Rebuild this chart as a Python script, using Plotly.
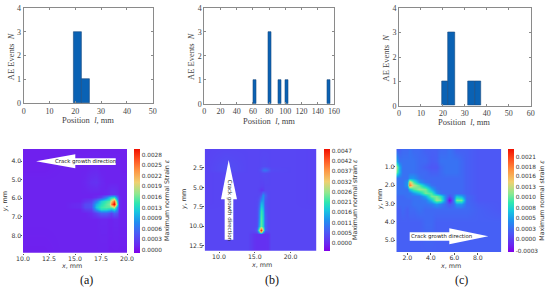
import plotly.graph_objects as go

W, H = 550, 289

# ---------- AE event histograms ----------
bars_a_left = [19.5, 22.6]
bars_a_width = [3.1, 3.1]
bars_a_n = [3, 1]
bars_b_left = [60.9, 79.0, 91.3, 100.4, 151.2]
bars_b_width = [3.7, 3.7, 3.7, 3.7, 3.7]
bars_b_n = [1, 3, 1, 1, 1]
bars_c_left = [19.4, 22.5, 31.4, 34.5]
bars_c_width = [3.05, 3.05, 3.05, 3.05]
bars_c_n = [1, 3, 1, 1]

# ---------- strain maps, values in units of 1e-4 ----------
map_a_x = [10, 12, 14, 15.5, 16, 16.5, 17, 17.5, 18, 18.25, 18.5, 18.75, 19, 19.25, 19.5, 20]
map_a_y = [3.35, 4.5, 5.1, 5.75, 5.95, 6.15, 6.3, 6.45, 6.6, 6.8, 7.1, 8.93]
map_a_z = [
    [.8, .8, .8, .8, .8, .8, .8, .8, .8, .8, .8, .8, .8, .8, .8, .8],
    [.8, .8, 1, 1, 1, 1.2, 1.3, 1, 1, 1, 1, 1, 1, 1, .8, .8],
    [1, 1, 1, 1, 1.2, 1.8, 2, 1.3, 1, 1, 1, 1, 1, 1, 1, 1],
    [1, 1, 1, 1, 1, 1, 1, 1, 1.2, 1.6, 2, 2, 1.6, 1, 1, 1],
    [1, 1, 1, 1, 1, 1, 1.5, 3, 7, 10, 12, 13, 6, 1.5, 1, 1],
    [1, 1, 1, 1, 2, 3, 7, 12, 14, 15, 20, 26, 12, 1.5, 1, 1],
    [1, 1, 1, 1.5, 3.5, 4, 10, 13, 15, 16, 24, 31, 15, 1.5, 1, 1],
    [1, 1, 1, 1.5, 3.5, 4, 11, 14, 15, 15, 16, 19, 9, 1.5, 1, 1],
    [1, 1, 1, 1, 2.5, 3, 9, 13, 13, 12, 11, 13, 8, 1.5, 1, 1],
    [1, 1, 1, 1, 1, 1.5, 3, 5, 5, 4, 3, 5, 4, 1.2, 1, 1],
    [1, 1, 1, 1, 1, 1, 1, 1.2, 1.2, 1, 1, 1.2, 1.2, 1, 1, 1],
    [.8, .8, 1, 1, 1, 1, 1, 1, 1, .8, .8, .8, .8, .8, .8, .8],
]
map_a_ticks = [0, .00031, .00062, .00093, .00124, .00156, .00187, .00218, .00249, .0028]
map_a_labels = ["0.0000", "0.0003", "0.0006", "0.0009", "0.0013", "0.0016", "0.0019", "0.0022", "0.0025", "0.0028"]

map_b_x = [8, 11, 14, 14.8, 15.2, 15.5, 15.8, 16.1, 16.4, 16.8, 17.2, 20, 23.6]
map_b_y = [0.06, 2.2, 2.7, 3.2, 4.8, 5.3, 6, 7, 8, 9, 10, 10.5, 10.8, 11, 13.15]
map_b_z = [
    [3.2, 3.5, 3.5, 3.5, 3.5, 3.5, 3.5, 3.5, 3.5, 3.5, 3.5, 3.5, 3.2],
    [3.2, 4.5, 3.5, 3.5, 3.5, 3.5, 3.8, 4, 4, 3.8, 3.5, 3.5, 3.2],
    [3.2, 4.5, 3.5, 3.5, 3.5, 4, 5, 8, 9, 7, 4, 3.5, 3.2],
    [3.2, 3.5, 3.5, 3.5, 3.5, 3.5, 3.8, 4, 4, 3.8, 3.5, 3.5, 3.2],
    [3.2, 3.5, 3.5, 3.5, 3.5, 3.5, 3, 3, 3.5, 3.5, 3.5, 3.5, 3.2],
    [3.2, 3.5, 3.5, 3.5, 3.5, 3, 1.5, 2, 3.5, 3.5, 3.5, 3.5, 3.2],
    [3.2, 3.5, 3.5, 3.5, 3.5, 3.8, 5, 12, 7, 4, 3.5, 3.5, 3.2],
    [3.2, 3.5, 3.5, 3.5, 3.8, 6, 15, 14, 5, 3.8, 3.5, 3.5, 3.2],
    [3.5, 3.5, 3.5, 3.5, 4, 9, 21, 18, 6, 4, 3.5, 3.5, 3.5],
    [3.5, 3.5, 3.5, 3.5, 4, 10, 23, 19, 7, 4, 3.5, 3.5, 3.5],
    [3.5, 3.5, 3.5, 3.5, 4, 13, 24, 19, 7, 4, 3.5, 3.5, 3.5],
    [3.5, 3.5, 3.5, 3.5, 6, 26, 47, 30, 7, 4, 3.5, 3.5, 3.5],
    [3.5, 3.5, 3.5, 3, 4, 14, 36, 14, 3, 3, 3.5, 3.5, 3.5],
    [3.5, 3.5, 3.5, 1.5, 1, 1, 1, 1, 1, 1.2, 3.5, 3.5, 3.5],
    [3.5, 3.5, 3.5, 1.5, 1, 1, 1, 1, 1, 1.2, 3.5, 3.5, 3.5],
]
map_b_ticks = [0, .00052, .00104, .00157, .00209, .00261, .00313, .00366, .00418, .0047]
map_b_labels = ["0.0000", "0.0005", "0.0011", "0.0016", "0.0021", "0.0026", "0.0032", "0.0037", "0.0042", "0.0047"]

map_c_x = [1.06, 1.3, 1.6, 2.0, 2.2, 2.5, 3, 3.5, 4, 4.5, 4.8, 5.2, 5.6, 5.9, 6.2, 6.6, 7, 8, 10]
map_c_y = [0.02, 0.7, 1, 1.3, 1.6, 1.8, 2, 2.2, 2.4, 2.6, 2.8, 3, 3.3, 4, 5.64]
map_c_z = [
    [2, 2, 2.5, 2.5, 3, 2.5, 2.5, 2, 2, 2, 2.5, 2.5, 3, 2.5, 2, 2, 2, 1.5, 1.5],
    [6, 3, 3, 3, 3, 3, 2.5, 2.5, 1.8, 2, 3, 3, 3, 3, 3, 2.5, 2, 1.5, 1.5],
    [13, 6, 3, 3, 3, 3, 2.5, 2, 1.5, 1.5, 2.5, 3, 3, 3, 3, 2.5, 2, 1.5, 1.5],
    [11, 6, 3, 3, 3, 3, 2.5, 2.5, 2, 2, 2.5, 3, 3, 3, 3, 2.5, 2, 1.5, 1.5],
    [3, 3, 3, 3, 5, 5, 3, 2.5, 2.5, 2.5, 2.5, 2.5, 2.5, 2.5, 2.5, 2.5, 2, 1.5, 1.5],
    [3, 3, 3, 5, 16, 10, 5, 3, 2.5, 2.5, 2.5, 2.5, 2.5, 2.5, 2.5, 2.5, 2, 1.5, 1.5],
    [3, 3, 3, 5, 19, 13, 10, 6, 3, 2.5, 2.5, 2.5, 2.5, 2.5, 2.5, 2.5, 2, 1.5, 1.5],
    [3, 3, 3, 3, 7, 10, 12, 11, 6, 3, 2.5, 2.5, 2.5, 2.5, 2.5, 2.5, 2, 1.5, 1.5],
    [3, 3, 3, 3, 3, 5, 7, 11, 10, 5, 3, 2.5, 2.5, 2.5, 2.5, 2.5, 2, 1.5, 1.5],
    [2.5, 2.5, 2.5, 3, 3, 3, 3.5, 6, 11, 11, 9, 4, 1, 3, 7, 6, 2.5, 1.5, 1.5],
    [2.5, 2.5, 2.5, 2.5, 2.5, 3, 3, 3.5, 7, 12, 11, 4, -3, 3, 11, 11, 2.5, 1.5, 1.5],
    [2.5, 2.5, 2.5, 2.5, 2.5, 3, 3, 3, 3.5, 5, 4, 2.5, 1.5, 2.5, 5, 5, 2.5, 1.8, 1.5],
    [2, 2, 2.5, 2, 2.5, 2.5, 3, 2.5, 2.5, 2.5, 2.5, 2.5, 2.5, 2.5, 2.5, 2.5, 2.5, 2, 1.5],
    [2, 2, 2, 2, 2, 2, 2, 2.5, 2.5, 2, 2, 2, 2, 2, 2, 2, 2, 2, 2],
    [2, 2, 2, 2, 2, 2, 2, 2, 2, 2, 2, 2, 2, 2, 2, 2, 2, 2, 2],
]
map_c_ticks = [-.0003, 0, .00027, .00053, .0008, .00107, .00133, .0016, .00183, .0021]
map_c_labels = ["-0.0003", "0.0000", "0.0003", "0.0005", "0.0008", "0.0010", "0.0013", "0.0016", "0.0018", "0.0021"]

scale = [[0, "#8000e8"], [.07, "#6a28f0"], [.19, "#4a5cf5"], [.3, "#2090f0"], [.4, "#18c8e0"],
         [.48, "#30e8b0"], [.57, "#90e890"], [.68, "#f0d070"], [.8, "#ff9040"], [.9, "#ff5020"], [1, "#f01000"]]

SERIF = "Liberation Serif"
SANS = "DejaVu Sans"
AXC = "#8a8a8a"
TXT = "#444444"
DARK = "#333333"


def fx(p):
    return p / W


def fy(p):
    return 1 - p / H


fig = go.Figure()

hist_boxes = [
    (23.7, 152.7, 8.0, 103.3, 50, 10, bars_a_left, bars_a_width, bars_a_n),
    (204.3, 334.0, 8.0, 103.7, 160, 20, bars_b_left, bars_b_width, bars_b_n),
    (399.0, 530.7, 8.3, 105.7, 60, 10, bars_c_left, bars_c_width, bars_c_n),
]
layout = {}
for i, (x0, x1, y0, y1, xmax, step, left, width, n) in enumerate(hist_boxes):
    k = i + 1
    sfx = "" if k == 1 else str(k)
    fig.add_trace(go.Bar(x=[a + b / 2 for a, b in zip(left, width)], y=n, width=width,
                         marker=dict(color="#0a62b4", line=dict(color="#174a80", width=0.6)),
                         xaxis="x" + sfx, yaxis="y" + sfx, showlegend=False))
    common = dict(showline=True, linecolor=AXC, linewidth=1, mirror="ticks", ticks="inside", ticklen=2,
                  tickcolor=AXC, showgrid=False, zeroline=False, automargin=False,
                  tickfont=dict(family=SERIF, size=8, color=TXT))
    layout["xaxis" + sfx] = dict(domain=[fx(x0), fx(x1)], range=[0, xmax], dtick=step, tick0=0,
                                 anchor="y" + sfx, **common)
    layout["yaxis" + sfx] = dict(domain=[fy(y1), fy(y0)], range=[0, 4], dtick=1, tick0=0,
                                 anchor="x" + sfx, **common)

map_boxes = [
    (23.0, 127.0, 149.0, 252.7, 133.7, map_a_x, map_a_y, map_a_z, map_a_ticks, map_a_labels,
     -.00009, .00298, [10, 12.5, 15, 17.5, 20], [4, 5, 6, 7, 8]),
    (204.7, 316.3, 149.0, 250.7, 323.7, map_b_x, map_b_y, map_b_z, map_b_ticks, map_b_labels,
     -.00037, .0048, [10, 15, 20], [2.5, 5, 7.5, 10, 12.5]),
    (396.3, 501.3, 149.0, 252.0, 508.0, map_c_x, map_c_y, map_c_z, map_c_ticks, map_c_labels,
     -.00032, .00229, [2, 4, 6, 8], [1, 2, 3, 4, 5]),
]
for i, (x0, x1, y0, y1, cbx, mx, my, mz, ticks, labels, zmin, zmax, xt, yt) in enumerate(map_boxes):
    k = i + 4
    fig.add_trace(go.Heatmap(
        x=mx, y=my, z=[[v * 1e-4 for v in row] for row in mz], zmin=zmin, zmax=zmax, zsmooth="best",
        colorscale=scale, xaxis=f"x{k}", yaxis=f"y{k}",
        colorbar=dict(x=fx(cbx), xanchor="left", xref="paper", y=fy(y1), yanchor="bottom", yref="paper",
                      len=(y1 - y0) / H, lenmode="fraction", thickness=5.5, thicknessmode="pixels", xpad=0, ypad=0,
                      outlinewidth=0, ticks="", tickvals=ticks, ticktext=labels,
                      tickfont=dict(family=SANS, size=5.8, color=DARK))))
    common = dict(showline=False, ticks="outside", ticklen=1.5, tickwidth=0.6, tickcolor="#555555", showgrid=False,
                  zeroline=False, automargin=False, ticklabelstandoff=-2,
                  tickfont=dict(family=SANS, size=6.2, color=DARK), tickformat=".1f")
    layout[f"xaxis{k}"] = dict(domain=[fx(x0), fx(x1)], range=[mx[0], mx[-1]], tickvals=xt, anchor=f"y{k}", **common)
    layout[f"yaxis{k}"] = dict(domain=[fy(y1), fy(y0)], range=[my[-1], my[0]], tickvals=yt, anchor=f"x{k}", **common)


def arrow(points):
    path = "M " + " L ".join(f"{fx(a):.4f},{fy(b):.4f}" for a, b in points) + " Z"
    return dict(type="path", xref="paper", yref="paper", path=path, fillcolor="white", line=dict(width=0), layer="above")


shapes = [
    arrow([(36, 161.3), (75.3, 154.3), (75.3, 158.3), (115.7, 158.3), (115.7, 165), (75.3, 165), (75.3, 168.3)]),
    arrow([(228.7, 160), (237, 199.3), (233.3, 199.3), (233.3, 239.7), (224.7, 239.7), (224.7, 199.3), (221, 199.3)]),
    arrow([(488.3, 236.3), (449.3, 228.3), (449.3, 232.3), (409.7, 232.3), (409.7, 240.7), (449.3, 240.7), (449.3, 244.3)]),
]


def note(text, px, py, size, family, angle=0, color="#222222"):
    return dict(text=text, x=fx(px), y=fy(py), xref="paper", yref="paper", showarrow=False, textangle=angle,
                xanchor="center", yanchor="middle", font=dict(family=family, size=size, color=color))


POS = "Position  <i>l</i>, mm"
AE = "AE Events  <i>N</i>"
annotations = [
    note(POS, 88, 120, 8.5, SERIF, 0, TXT),
    note(POS, 269, 120.5, 8.5, SERIF, 0, TXT),
    note(POS, 464, 122.5, 8.5, SERIF, 0, TXT),
    note(AE, 10.5, 56.7, 8.5, SERIF, -90, TXT),
    note(AE, 191, 56, 8.5, SERIF, -90, TXT),
    note(AE, 385.5, 58, 8.5, SERIF, -90, TXT),
    note("<i>x</i>, mm", 71, 266, 6.4, SANS, 0, DARK),
    note("<i>x</i>, mm", 261, 264.5, 6.4, SANS, 0, DARK),
    note("<i>x</i>, mm", 450.3, 266, 6.4, SANS, 0, DARK),
    note("<i>y</i>, mm", 5, 202.3, 6.4, SANS, -90, DARK),
    note("<i>y</i>, mm", 184, 200, 6.4, SANS, -90, DARK),
    note("<i>y</i>, mm", 380, 200, 6.4, SANS, -90, DARK),
    note("Crack growth direction", 85, 161.3, 5.4, SANS),
    note("Crack growth direction", 229, 209.7, 5.4, SANS, 90),
    note("Crack growth direction", 441.7, 236.4, 5.4, SANS),
    note("Maximum normal Strain <i>ε</i>", 167, 200, 6.3, SANS, -90, DARK),
    note("Maximum normal strain <i>ε</i>", 355, 200, 6.3, SANS, -90, DARK),
    note("Maximum normal strain <i>ε</i>", 541.7, 200, 6.3, SANS, -90, DARK),
    note("(a)", 86, 280, 12, SERIF, color="#111111"),
    note("(b)", 272, 280, 12, SERIF, color="#111111"),
    note("(c)", 461, 280, 12, SERIF, color="#111111"),
]

fig.update_layout(template="none", width=W, height=H, margin=dict(l=0, r=0, t=0, b=0, pad=0), autosize=False,
                  paper_bgcolor="white", plot_bgcolor="white", bargap=0, shapes=shapes, annotations=annotations,
                  showlegend=False, **layout)
fig.write_html("out.html", config=dict(displayModeBar=False),
               post_script="document.body.style.margin='0';document.body.style.overflow='hidden';")
